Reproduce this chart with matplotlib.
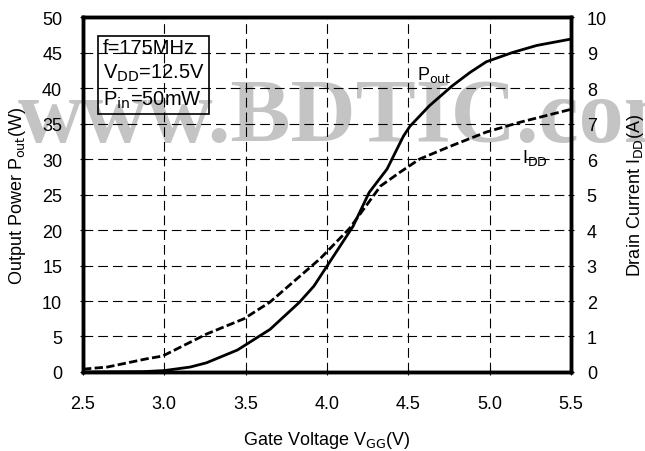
import matplotlib
matplotlib.use('Agg')
from matplotlib import pyplot as plt

plt.rcParams['font.family'] = ['Liberation Sans', 'DejaVu Sans']
plt.rcParams['lines.scale_dashes'] = False

# Pout vs gate voltage (left axis, W)
vgg_p = [2.5, 2.87, 3.0, 3.16, 3.26, 3.45, 3.65, 3.83, 3.92, 4.0, 4.16,
         4.26, 4.37, 4.47, 4.51, 4.63, 4.77, 4.88, 4.98, 5.14, 5.29, 5.5]
pout = [0, 0.05, 0.2, 0.7, 1.3, 3.1, 6.0, 9.8, 12.1, 14.9, 20.5,
        25.3, 28.6, 33.2, 34.6, 37.5, 40.3, 42.2, 43.7, 45.0, 46.0, 46.9]

# IDD vs gate voltage (right axis, A)
vgg_i = [2.5, 2.65, 2.89, 2.99, 3.26, 3.49, 3.65, 3.96, 4.14, 4.33,
         4.45, 4.57, 4.77, 4.98, 5.19, 5.5]
idd = [0.08, 0.14, 0.37, 0.45, 1.07, 1.5, 1.97, 3.2, 4.05, 5.24,
       5.63, 6.0, 6.38, 6.76, 7.04, 7.4]

x_ticks = [2.5, 3.0, 3.5, 4.0, 4.5, 5.0, 5.5]
p_ticks = [0, 5, 10, 15, 20, 25, 30, 35, 40, 45, 50]
i_ticks = [0, 1, 2, 3, 4, 5, 6, 7, 8, 9, 10]

fig = plt.figure(figsize=(6.45, 4.52), dpi=100)
ax = fig.add_axes([0.1287, 0.1748, 0.7563, 0.7852])
ax.set_facecolor('none')
ax2 = ax.twinx()

# watermark behind everything
fig.text(0.028, 0.686, 'www.BDTIC.com', family='Liberation Serif',
         weight='bold', fontsize=65, color='#c4c4c4', zorder=-5)

ax.plot(vgg_p, pout, color='k', lw=2.0)
ax2.plot(vgg_i, idd, color='k', lw=2.0, ls=(0, (6, 2.4)))

ax.set_xlim(2.5, 5.5)
ax.set_ylim(0, 50)
ax2.set_ylim(0, 10)
ax.set_xticks(x_ticks)
ax.set_xticklabels(['%.1f' % v for v in x_ticks])
ax.set_yticks(p_ticks)
ax2.set_yticks(i_ticks)

ax.grid(True, color='k', lw=0.8, ls=(0, (7, 3.6)))
for a in (ax, ax2):
    a.tick_params(labelsize=13, length=5, width=0.8, direction='inout')
    for s in a.spines.values():
        s.set_linewidth(2.5)
ax.tick_params(axis='y', pad=12.5)
ax.tick_params(axis='x', pad=14)
ax2.tick_params(axis='y', pad=9)

ax.set_xlabel('Gate Voltage V$_{\\rm GG}$(V)', fontsize=13, labelpad=12)
ax.set_ylabel('Output Power P$_{\\rm out}$(W)', fontsize=13, labelpad=10)
ax2.set_ylabel('Drain Current I$_{\\rm DD}$(A)', fontsize=13, labelpad=13)

ax.text(0.04, 0.94,
        'f=175MHz\nV$_{\\rm DD}$=12.5V\nP$_{\\rm in}$=50mW',
        transform=ax.transAxes, fontsize=14.5, va='top', ha='left',
        linespacing=1.3,
        bbox=dict(boxstyle='square,pad=0.2', fc='none', ec='k', lw=1.2))

ax.text(4.553, 41.3, 'P$_{\\rm out}$', fontsize=13)
ax.text(5.20, 29.6, 'I$_{\\rm DD}$', fontsize=13)

plt.savefig('out.png', dpi=100)
